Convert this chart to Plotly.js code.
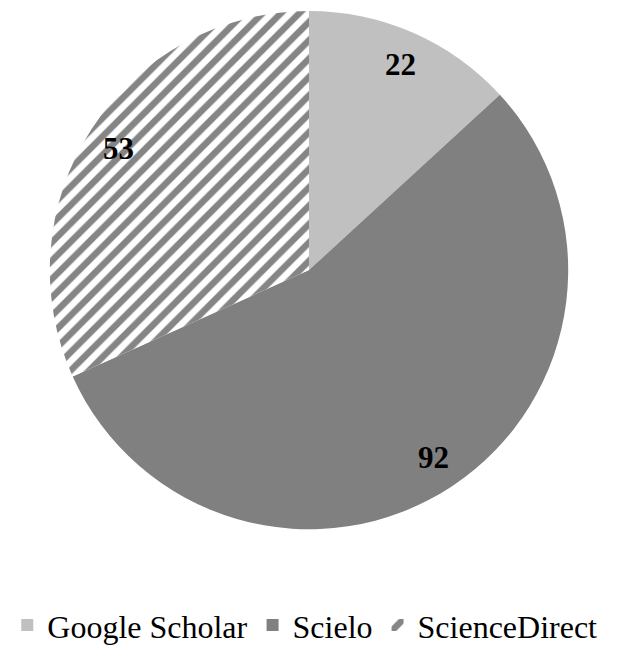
<!DOCTYPE html>
<html>
<head>
<meta charset="utf-8">
<script src="https://cdn.plot.ly/plotly-3.0.1.min.js"></script>
<style>html,body{margin:0;padding:0;background:#fff;}#chart{width:622px;height:653px;}</style>
</head>
<body>
<div id="chart"></div>
<script>
const categories = ["Google Scholar", "Scielo", "ScienceDirect"];
const values = [22, 92, 53];
const colors = ["#c0c0c0", "#808080", "#ffffff"];

const W = 622, H = 653;
const cxPx = 309, cyPx = 273, rPx = 262;
const domX = [(cxPx - rPx) / W, (cxPx + rPx) / W];
const domY = [1 - (cyPx + rPx) / H, 1 - (cyPx - rPx) / H];
const FONT = "Liberation Serif";

// label annotations at the mid-angle of each slice (clockwise from 12 o'clock)
const total = values.reduce((a, b) => a + b, 0);
let acc = 0;
const annotations = values.map((v) => {
  const mid = (acc + v / 2) / total * 2 * Math.PI;
  acc += v;
  const rr = 0.865 * rPx;
  return {
    xref: 'paper', yref: 'paper',
    x: (cxPx + rr * Math.sin(mid)) / W,
    y: 1 - (cyPx - rr * Math.cos(mid)) / H,
    text: '<b>' + v + '</b>', showarrow: false,
    xanchor: 'center', yanchor: 'middle',
    font: {family: FONT, size: 31, color: '#000'}
  };
});

const trace = {
  type: 'pie',
  labels: categories,
  values: values,
  sort: false,
  direction: 'clockwise',
  rotation: 0,
  textposition: 'none',
  domain: {x: domX, y: domY},
  marker: {
    colors: colors,
    line: {width: 0},
    pattern: {
      shape: ['', '', '/'],
      fgcolor: '#858585',
      bgcolor: '#ffffff',
      size: 13,
      solidity: 0.5
    }
  }
};

const layout = {
  width: W, height: H,
  margin: {l: 0, r: 0, t: 0, b: 0},
  font: {family: FONT, size: 32, color: '#000'},
  showlegend: true,
  legend: {
    orientation: 'h',
    x: 0.49, xanchor: 'center',
    y: 1 - 632 / H, yanchor: 'middle',
    font: {family: FONT, size: 32, color: '#000'}
  },
  annotations: annotations
};

Plotly.newPlot('chart', [trace], layout, {displayModeBar: false, staticPlot: true});
</script>
</body>
</html>
